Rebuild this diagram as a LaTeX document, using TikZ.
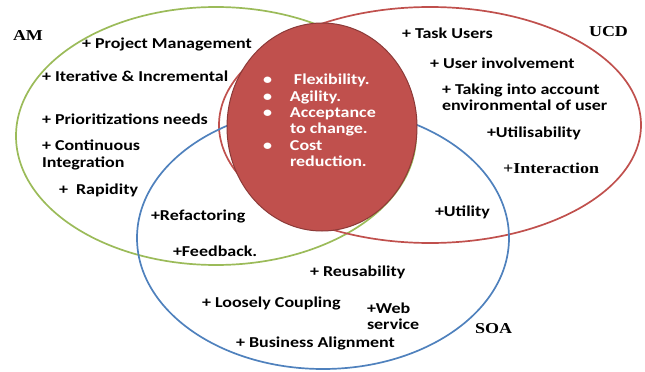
\documentclass[tikz,border=0pt]{standalone}
\usepackage{fontspec}
\setmainfont{Carlito}
\newfontfamily\tnr{Liberation Serif}
\definecolor{amgreen}{RGB}{155,187,89}
\definecolor{ucdred}{RGB}{192,80,77}
\definecolor{soablue}{RGB}{79,129,189}
\definecolor{corefill}{RGB}{192,80,77}
\definecolor{coredraw}{RGB}{140,58,56}
\tikzset{
  setline/.style={line width=1.7pt},
  lbl/.style={anchor=west, inner sep=0pt, outer sep=0pt, align=left,
    font=\fontsize{18}{19.6}\selectfont\bfseries, yscale=0.84, transform shape},
  setname/.style={lbl, font=\fontsize{18}{19.6}\selectfont\tnr\bfseries},
  corelbl/.style={lbl, text=white},
}
\begin{document}
\begin{tikzpicture}[x=1pt,y=-1pt]
\useasboundingbox (0,0) rectangle (645,372);
% sets
\draw[setline, amgreen] (216,136) ellipse [x radius=200, y radius=129];
\draw[setline, ucdred] (430,125) ellipse [x radius=211, y radius=118];
\draw[setline, soablue] (323,238) ellipse [x radius=186, y radius=131];
% core
\draw[line width=1pt, coredraw, fill=corefill] (322,127) ellipse [x radius=95, y radius=104];
% set names
\node[setname] (am) at (13,36) {AM};
\node[setname] (ucd) at (589,32) {UCD};
\node[setname] (soa) at (475,329) {SOA};
% AM
\node[lbl] (pm) at (82,44) {+ Project Management};
\node[lbl] (ii) at (42,76) {+ Iterative \& Incremental};
\node[lbl] (pn) at (42,119) {+ Prioritizations needs};
\node[lbl] (ci) at (42,155) {+ Continuous\\Integration};
\node[lbl] (rap) at (59,190) {+\ \ Rapidity};
% UCD
\node[lbl] (tu) at (402,33) {+ Task Users};
\node[lbl] (ui) at (430,63) {+ User involvement};
\node[lbl] (ta) at (442,97.5) {+ Taking into account\\environmental of user};
\node[lbl] (ut) at (487,133) {+Utilisability};
\node[setname] (int) at (503,168) {+Interaction};
% shared AM/SOA
\node[lbl] (ref) at (151,216) {+Refactoring};
\node[lbl] (fb) at (173,251) {+Feedback.};
% shared UCD/SOA
\node[lbl] (uty) at (435,212) {+Utility};
% SOA
\node[lbl] (reu) at (310,272) {+ Reusability};
\node[lbl] (lc) at (202,303) {+ Loosely Coupling};
\node[lbl] (ws) at (367,316) {+Web\\service};
\node[lbl] (ba) at (236,343) {+ Business Alignment};
% core text
\node[corelbl] (core) at (263,120.5) {%
\makebox[27pt][l]{\textbullet}\hspace{4pt}Flexibility.\\
\makebox[27pt][l]{\textbullet}Agility.\\
\makebox[27pt][l]{\textbullet}Acceptance\\
\makebox[27pt][l]{}to change.\\
\makebox[27pt][l]{\textbullet}Cost\\
\makebox[27pt][l]{}reduction.};
\end{tikzpicture}
\end{document}
